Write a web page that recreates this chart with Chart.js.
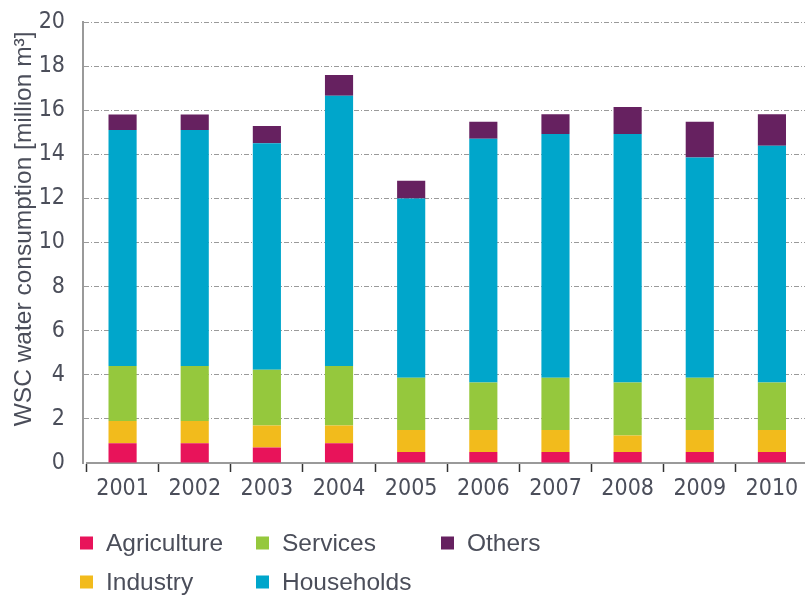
<!DOCTYPE html>
<html>
<head>
<meta charset="utf-8">
<script src="https://cdn.jsdelivr.net/npm/chart.js@4/dist/chart.umd.min.js"></script>
<style>
  html, body { margin: 0; padding: 0; background: #ffffff; }
  #wrap { width: 805px; height: 598px; }
</style>
</head>
<body>
<div id="wrap"><canvas id="c" width="805" height="598"></canvas></div>
<script>
const years = ["2001","2002","2003","2004","2005","2006","2007","2008","2009","2010"];
const agriculture = [0.9, 0.9, 0.7, 0.9, 0.5, 0.5, 0.5, 0.5, 0.5, 0.5];
const industry    = [1.0, 1.0, 1.0, 0.8, 1.0, 1.0, 1.0, 0.75, 1.0, 1.0];
const services    = [2.5, 2.5, 2.53, 2.7, 2.37, 2.15, 2.37, 2.4, 2.37, 2.15];
const households  = [10.7, 10.7, 10.27, 12.25, 8.13, 11.05, 11.05, 11.27, 9.98, 10.74];
const others      = [0.7, 0.7, 0.78, 0.95, 0.8, 0.78, 0.9, 1.23, 1.63, 1.43];
const yTicks = [0, 2, 4, 6, 8, 10, 12, 14, 16, 18, 20];

const seriesNames  = ["Agriculture", "Industry", "Services", "Households", "Others"];
const seriesColors = ["#e8135a", "#f2bb1c", "#95c83d", "#00a6cb", "#662160"];
const seriesValues = [agriculture, industry, services, households, others];

const TEXT = "#4b4e5a";
const NARROW = "'Liberation Sans Narrow', 'DejaVu Sans Condensed', 'Liberation Sans', sans-serif";
const SANS = "'Liberation Sans', Arial, sans-serif";

// legend in a 3-column, 2-row grid (column-major order)
const gridLegend = {
  id: "gridLegend",
  afterDraw(chart) {
    const ctx = chart.ctx;
    const colX = [80, 256, 441];
    const rowY = [543, 582];
    ctx.save();
    ctx.font = "24.5px " + SANS;
    ctx.textBaseline = "middle";
    ctx.textAlign = "left";
    chart.data.datasets.forEach((ds, i) => {
      const col = Math.floor(i / 2), row = i % 2;
      const x = colX[col], y = rowY[row];
      ctx.fillStyle = ds.backgroundColor;
      ctx.fillRect(x, y - 6.5, 13, 13);
      ctx.fillStyle = TEXT;
      ctx.fillText(ds.label, x + 26, y + 1);
    });
    ctx.restore();
  }
};

// shift the category band slightly to the right of the value axis, as in the reference
const categoryBand = {
  id: "categoryBand",
  afterLayout(chart) {
    const x = chart.scales.x;
    x.left = 86.5;
    x.right = 808;
    x.width = x.right - x.left;
    x.configure();
  }
};

new Chart(document.getElementById("c"), {
  type: "bar",
  data: {
    labels: years,
    datasets: seriesNames.map((n, i) => ({
      label: n,
      data: seriesValues[i],
      backgroundColor: seriesColors[i],
      borderWidth: 0,
      barPercentage: 0.39,
      categoryPercentage: 1.0
    }))
  },
  options: {
    responsive: false,
    devicePixelRatio: 1,
    animation: false,
    layout: { padding: { top: 22, right: 0, bottom: 95, left: 0 } },
    plugins: { legend: { display: false }, tooltip: { enabled: false } },
    scales: {
      x: {
        stacked: true,
        afterFit(s) { s.height = 40; },
        grid: {
          offset: true,
          drawOnChartArea: false,
          drawTicks: true,
          tickLength: 9,
          tickColor: "#333333",
          tickWidth: 1.5
        },
        border: { display: true, color: "#9a9a9a", width: 2 },
        ticks: {
          color: TEXT,
          font: { family: NARROW, size: 23 },
          padding: 3,
          maxRotation: 0
        }
      },
      y: {
        stacked: true,
        min: 0,
        max: 20,
        afterFit(s) { s.width = 83; },
        afterBuildTicks(s) { s.ticks = yTicks.map(v => ({ value: v })); },
        grid: {
          drawTicks: true,
          tickLength: 18,
          tickColor: "rgba(0,0,0,0)",
          color: (c) => (c.tick && c.tick.value === 0) ? "rgba(0,0,0,0)" : "#9a9a9a",
          lineWidth: 1
        },
        border: { display: true, color: "#9a9a9a", width: 2, dash: [5, 2, 1, 2] },
        ticks: {
          color: TEXT,
          font: { family: NARROW, size: 23 },
          padding: 0
        },
        title: {
          display: true,
          text: "    WSC water consumption [million m³]",
          color: TEXT,
          font: { family: SANS, size: 24.5 },
          padding: { top: 10, bottom: 0 }
        }
      }
    }
  },
  plugins: [gridLegend, categoryBand]
});
</script>
</body>
</html>
